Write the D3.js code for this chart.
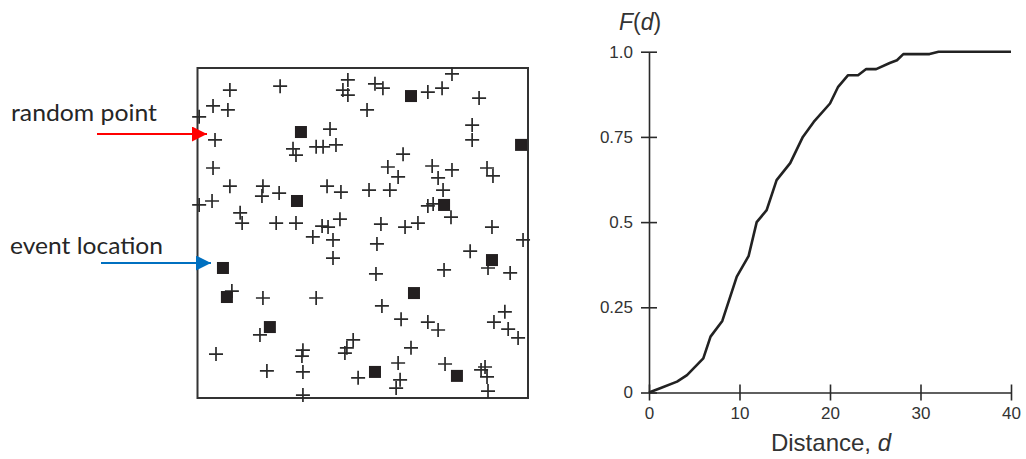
<!DOCTYPE html>
<html><head><meta charset="utf-8">
<script src="https://cdn.jsdelivr.net/npm/d3@7"></script>
<style>body{margin:0;background:#fff}svg{display:block}</style>
</head><body>
<svg id="c" width="1026" height="459"></svg>
<script>
// Random points (+) in study area, coordinates 0-100
const randX = [9.8,25.0,45.5,44.0,45.5,4.7,9.2,0.5,40.1,5.3,28.9,29.8,35.9,38.0,41.9,4.7,9.8,19.8,19.5,24.7,39.2,43.4,51.3,51.9,0.5,4.4,12.9,13.5,23.8,29.8,37.7,39.5,43.1,53.7,56.1,69.7,74.0,77.0,85.2,83.1,83.1,62.2,57.6,60.7,71.0,72.8,77.0,87.6,89.4,58.2,74.3,69.7,71.3,76.7,55.5,62.8,66.7,89.1,34.9,41.0,41.0,10.4,19.8,35.9,18.9,5.6,31.9,31.6,47.1,45.2,44.6,21.0,31.9,48.6,31.9,54.3,98.5,82.5,87.9,94.6,74.6,54.0,55.8,61.6,69.7,72.8,89.7,93.0,94.0,97.0,64.6,60.7,61.3,60.1,74.9,85.8,87.0,87.6,87.9];
const randY = [93.3,94.5,96.4,93.3,91.8,88.5,87.3,85.2,81.5,78.2,75.5,73.6,76.1,76.1,76.7,69.7,64.2,64.2,61.2,62.1,64.2,62.4,87.3,63.0,58.5,59.7,56.1,53.0,53.0,53.0,52.1,51.8,54.2,95.2,93.9,92.7,93.9,98.2,90.9,82.7,78.2,73.9,70.0,67.0,70.3,66.7,69.1,69.7,67.3,63.0,63.0,58.2,58.8,54.8,52.7,51.8,53.0,51.8,48.8,47.9,42.4,32.4,30.3,30.3,19.1,13.3,14.5,12.7,17.6,15.2,13.6,8.2,7.9,6.1,0.9,46.7,47.9,44.5,39.4,37.9,38.8,37.6,27.9,23.9,23.0,20.6,23.0,26.1,20.9,18.2,15.2,10.6,5.5,3.0,10.3,8.5,9.4,6.4,2.1];
// Event locations (squares)
const eventX = [64.6,31.3,97.9,30.1,74.6,7.7,89.1,8.9,65.5,21.9,53.7,78.5];
const eventY = [91.5,80.6,76.7,59.7,58.5,39.4,41.8,30.6,31.8,21.5,7.9,6.7];
// F(d) curve
const distD = [0,1.3,3.1,4.2,6.0,6.8,8.1,9.7,11.0,11.9,13.0,14.1,15.6,17.0,18.2,20.0,20.9,22.0,23.1,24.0,25.1,26.6,27.4,28.1,31.0,32.0,40.0];
const fVals = [0,0.013,0.032,0.051,0.10,0.164,0.21,0.34,0.40,0.50,0.535,0.623,0.673,0.75,0.794,0.848,0.897,0.931,0.931,0.949,0.949,0.967,0.975,0.993,0.993,1.0,1.0];
const xTicks = [0,10,20,30,40];
const yTicks = [0,0.25,0.5,0.75,1.0];
const yTickLabels = ["0","0.25","0.5","0.75","1.0"];

const svg = d3.select("#c");
const ink = "#2a2a2a";

// ---------- left panel ----------
const bx = d3.scaleLinear().domain([0,100]).range([197.5,528]);
const by = d3.scaleLinear().domain([0,100]).range([398,68]);
svg.append("rect").attr("x",bx(0)).attr("y",by(100))
  .attr("width",bx(100)-bx(0)).attr("height",by(0)-by(100))
  .attr("fill","none").attr("stroke","#333").attr("stroke-width",2);

const plus = d3.range(randX.length).map(i=>({x:randX[i],y:randY[i]}));
svg.append("g").selectAll("path").data(plus).join("path")
  .attr("transform",d=>`translate(${bx(d.x)},${by(d.y)})`)
  .attr("d","M-7,0H7M0,-7V7").attr("stroke",ink).attr("stroke-width",1.7).attr("fill","none");

const ev = d3.range(eventX.length).map(i=>({x:eventX[i],y:eventY[i]}));
svg.append("g").selectAll("rect").data(ev).join("rect")
  .attr("x",d=>bx(d.x)-6).attr("y",d=>by(d.y)-6).attr("width",12).attr("height",12)
  .attr("fill","#231f20");

// annotations
const defs = svg.append("defs");
function marker(id,color){
  defs.append("marker").attr("id",id).attr("viewBox","0 0 10 10").attr("refX",10).attr("refY",5)
    .attr("markerWidth",7.5).attr("markerHeight",7.5).attr("markerUnits","strokeWidth").attr("orient","auto")
    .append("path").attr("d","M0,0L10,5L0,10Z").attr("fill",color);
}
marker("ar","#ff0000"); marker("ab","#0070c0");
svg.append("line").attr("x1",97).attr("y1",134).attr("x2",207).attr("y2",134)
  .attr("stroke","#ff0000").attr("stroke-width",2).attr("marker-end","url(#ar)");
svg.append("line").attr("x1",101).attr("y1",263).attr("x2",211).attr("y2",263)
  .attr("stroke","#0070c0").attr("stroke-width",2).attr("marker-end","url(#ab)");
svg.append("text").attr("x",11).attr("y",121).text("random point")
  .attr("textLength",146).attr("lengthAdjust","spacingAndGlyphs")
  .attr("font-family","Lato, 'Open Sans', sans-serif").attr("font-size",23).attr("fill","#262626");
svg.append("text").attr("x",10).attr("y",254).text("event location")
  .attr("textLength",153).attr("lengthAdjust","spacingAndGlyphs")
  .attr("font-family","Lato, 'Open Sans', sans-serif").attr("font-size",23).attr("fill","#262626");

// ---------- right panel ----------
const x = d3.scaleLinear().domain([0,40]).range([649,1011]);
const y = d3.scaleLinear().domain([0,1]).range([392.5,51.7]);
const font = "'Liberation Sans', Arial, sans-serif";

const gx = svg.append("g").attr("transform",`translate(0,${y(0)})`)
  .call(d3.axisBottom(x).tickValues(xTicks).tickSizeInner(8).tickSizeOuter(0).tickPadding(6));
gx.select(".domain").attr("stroke",ink).attr("stroke-width",1.6);
gx.selectAll(".tick line").attr("y1",-8).attr("stroke",ink).attr("stroke-width",1.6);
gx.selectAll(".tick text").attr("font-family",font).attr("font-size",17).attr("fill","#333");

const gy = svg.append("g").attr("transform",`translate(${x(0)},0)`)
  .call(d3.axisLeft(y).tickValues(yTicks).tickFormat((d,i)=>yTickLabels[i]).tickSizeInner(8).tickSizeOuter(0).tickPadding(8));
gy.select(".domain").attr("stroke",ink).attr("stroke-width",1.6);
gy.selectAll(".tick line").attr("x1",8).attr("stroke",ink).attr("stroke-width",1.6);
gy.selectAll(".tick text").attr("font-family",font).attr("font-size",17).attr("fill","#333");

const pts = d3.range(distD.length).map(i=>[distD[i],fVals[i]]);
svg.append("path").datum(pts)
  .attr("d",d3.line().x(d=>x(d[0])).y(d=>y(d[1])))
  .attr("fill","none").attr("stroke","#222").attr("stroke-width",2.6).attr("stroke-linejoin","round");

const yl = svg.append("text").attr("x",640).attr("y",30).attr("text-anchor","middle")
  .attr("font-family",font).attr("font-size",23).attr("fill","#333");
yl.append("tspan").attr("font-style","italic").text("F");
yl.append("tspan").text("(");
yl.append("tspan").attr("font-style","italic").text("d");
yl.append("tspan").text(")");

const xl = svg.append("text").attr("x",831).attr("y",451).attr("text-anchor","middle")
  .attr("font-family",font).attr("font-size",24).attr("fill","#333");
xl.append("tspan").text("Distance, ");
xl.append("tspan").attr("font-style","italic").text("d");
</script>
</body></html>
